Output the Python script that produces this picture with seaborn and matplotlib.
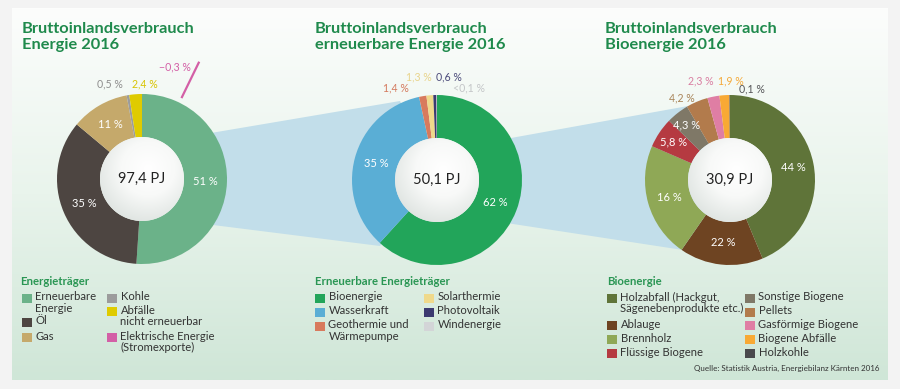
import numpy as np
import matplotlib.pyplot as plt
import seaborn as sns
from matplotlib.patches import Rectangle, Circle, Polygon
from matplotlib.colors import LinearSegmentedColormap

# Energieträger gesamt
energie_labels = ["Erneuerbare\nEnergie", "Öl", "Gas", "Kohle", "Abfälle\nnicht erneuerbar"]
energie_values = [51, 35, 11, 0.5, 2.4]
energie_texts = ["51 %", "35 %", "11 %", "0,5 %", "2,4 %"]
energie_colors = ["#6bb289", "#4d4541", "#c5a96b", "#9c9c9c", "#dfcb00"]
energie_total = "97,4 PJ"
strom_label = "Elektrische Energie\n(Stromexporte)"
strom_value = -0.3
strom_text = "\u22120,3 %"
strom_color = "#d35fa6"

# erneuerbare Energieträger
erneuerbar_labels = ["Bioenergie", "Wasserkraft", "Geothermie und\nWärmepumpe",
                     "Solarthermie", "Photovoltaik", "Windenergie"]
erneuerbar_values = [62, 35, 1.4, 1.3, 0.6, 0.1]
erneuerbar_texts = ["62 %", "35 %", "1,4 %", "1,3 %", "0,6 %", "<0,1 %"]
erneuerbar_colors = ["#22a55a", "#5aaed5", "#d87a5d", "#efd98b", "#3c3a70", "#d3d5d7"]
erneuerbar_total = "50,1 PJ"

# Bioenergie (Segmentgrößen wie gezeichnet)
bio_labels = ["Holzabfall (Hackgut,\nSägenebenprodukte etc.)", "Ablauge", "Brennholz",
              "Flüssige Biogene", "Sonstige Biogene", "Pellets", "Gasförmige Biogene",
              "Biogene Abfälle", "Holzkohle"]
bio_values = [44, 16, 22, 5.8, 4.3, 4.2, 2.3, 1.9, 0.1]
bio_texts = ["44 %", "22 %", "16 %", "5,8 %", "4,3 %", "4,2 %", "2,3 %", "1,9 %", "0,1 %"]
bio_colors = ["#5f7439", "#6e4422", "#8fa856", "#b53a41", "#7f7867", "#b27b4c",
              "#df7ea4", "#f8a934", "#4a4a4d"]
bio_total = "30,9 PJ"

# layout (pixel coordinates, y from top)
R, R_IN = 85, 42
CENTERS = [(142, 179), (437, 180), (730, 180)]
TITLES = ["Bruttoinlandsverbrauch\nEnergie 2016",
          "Bruttoinlandsverbrauch\nerneuerbare Energie 2016",
          "Bruttoinlandsverbrauch\nBioenergie 2016"]
TITLE_X = [22, 315, 605]
GREEN = "#1f8a4c"

sns.set_theme(style="white")
plt.rcParams["font.family"] = ["Lato", "DejaVu Sans"]

fig = plt.figure(figsize=(9, 3.89), dpi=100)
fig.patch.set_facecolor("#f3f3f3")
ax = fig.add_axes([0, 0, 1, 1])
ax.axis("off")

# panel background gradient
grad = np.linspace(0, 1, 256).reshape(-1, 1)
bg_cmap = LinearSegmentedColormap.from_list("bg", ["#fcfdfc", "#e9f4ec", "#cfe6d7"])
ax.imshow(grad, cmap=bg_cmap, extent=[12, 888, 380, 8], aspect="auto", zorder=0)

# connectors
conn = "#c2deea"
ax.add_patch(Polygon([(205, 134), (400, 101), (437, 180), (380, 246), (205, 224)],
                     closed=True, fc=conn, ec="none", zorder=1))
ax.add_patch(Polygon([(500, 140), (688, 106), (730, 180), (683, 250), (500, 222)],
                     closed=True, fc=conn, ec="none", zorder=1))

inner_cmap = LinearSegmentedColormap.from_list("inner", ["#ffffff", "#f8f9f8", "#e0e5e2"])


def donut(center, values, colors, texts, total, inside, outside):
    cx, cy = center
    # y axis is inverted: startangle -90 = top, counterclock=True = visually clockwise
    wedges, _ = ax.pie(values, colors=colors, radius=R, center=(cx, cy),
                       startangle=-90, counterclock=True,
                       wedgeprops=dict(width=R - R_IN, linewidth=0))
    for w in wedges:
        w.set_zorder(2)
    frac = np.array(values, dtype=float) / np.sum(values)
    ends = np.cumsum(frac) * 360
    mids = ends - frac * 180
    for i, t in enumerate(texts):
        if i in outside:
            x, y, c = outside[i]
            ax.text(x, y, t, color=c, fontsize=7.6, ha="center", va="center", zorder=4)
        elif i in inside:
            a = np.radians(mids[i])
            rr = inside[i]
            ax.text(cx + rr * np.sin(a), cy - rr * np.cos(a), t, color="white",
                    fontsize=8, ha="center", va="center", zorder=4)
    # inner shaded disc
    n = 120
    yy, xx = np.mgrid[-1:1:n * 1j, -1:1:n * 1j]
    d = np.sqrt((xx - 0.15) ** 2 + (yy + 0.25) ** 2) / 1.3
    im = ax.imshow(d, cmap=inner_cmap, vmin=0, vmax=1,
                   extent=[cx - R_IN, cx + R_IN, cy + R_IN, cy - R_IN],
                   aspect="auto", zorder=3)
    clip = Circle((cx, cy), R_IN, transform=ax.transData)
    im.set_clip_path(clip)
    ax.text(cx, cy, total, fontsize=10.5, ha="center", va="center", color="#222222", zorder=5)


donut(CENTERS[0], energie_values, energie_colors, energie_texts, energie_total,
      inside={0: 63, 1: 63, 2: 63},
      outside={3: (110, 84, "#8e8e8e"), 4: (145, 84, "#d8c400")})
donut(CENTERS[1], erneuerbar_values, erneuerbar_colors, erneuerbar_texts, erneuerbar_total,
      inside={0: 63, 1: 63},
      outside={2: (396, 88, "#d47a5e"), 3: (419, 77, "#e8d48c"),
               4: (449, 77, "#4b4a7a"), 5: (469, 88, "#c4c6c8")})
donut(CENTERS[2], bio_values, bio_colors, bio_texts, bio_total,
      inside={0: 65, 1: 63, 2: 63, 3: 68, 4: 70},
      outside={5: (682, 98, "#a88458"), 6: (701, 81, "#d97ea2"),
               7: (731, 81, "#f4a93a"), 8: (752, 89, "#555558")})

# negative Stromexporte as a line pointing out of the first ring
ang = np.radians(26)
cx, cy = CENTERS[0]
r0, r1 = R + 5, R + 5 + abs(strom_value) * 135
ax.plot([cx + r0 * np.sin(ang), cx + r1 * np.sin(ang)],
        [cy - r0 * np.cos(ang), cy - r1 * np.cos(ang)],
        color=strom_color, lw=1.6, solid_capstyle="butt", zorder=4)
ax.text(175, 67, strom_text, color=strom_color, fontsize=7.6, ha="center", va="center", zorder=4)

# titles
for x, t in zip(TITLE_X, TITLES):
    ax.text(x, 22, t, fontsize=11.8, fontweight="bold", color=GREEN, va="top",
            ha="left", linespacing=1.22, zorder=5)


def legend(title, tx, labels, colors, pos):
    ax.text(tx, 276, title, fontsize=8.2, fontweight="bold", color="#2a9654",
            ha="left", va="top", zorder=5)
    for lab, col, (x, y) in zip(labels, colors, pos):
        ax.add_patch(Rectangle((x, y - 4.5), 9.5, 9.5, fc=col, ec="none", zorder=5))
        ax.text(x + 13.5, y - 6.5, lab, fontsize=8.1, color="#333333", ha="left",
                va="top", linespacing=1.08, zorder=5)


legend("Energieträger", 20,
       [energie_labels[0], energie_labels[1], energie_labels[2],
        energie_labels[3], energie_labels[4], strom_label],
       [energie_colors[0], energie_colors[1], energie_colors[2],
        energie_colors[3], energie_colors[4], strom_color],
       [(22, 298), (22, 322), (22, 337), (107, 298), (107, 311), (107, 337)])
legend("Erneuerbare Energieträger", 315, erneuerbar_labels, erneuerbar_colors,
       [(315, 298), (315, 312), (315, 326), (424, 298), (424, 312), (424, 326)])
legend("Bioenergie", 607,
       [bio_labels[0], bio_labels[1], bio_labels[2], bio_labels[3],
        bio_labels[4], bio_labels[5], bio_labels[6], bio_labels[7], bio_labels[8]],
       bio_colors,
       [(607, 298), (607, 325), (607, 339), (607, 353),
        (745, 298), (745, 312), (745, 325), (745, 339), (745, 353)])

ax.text(880, 368, "Quelle: Statistik Austria, Energiebilanz Kärnten 2016", fontsize=5.8,
        color="#333333", ha="right", va="center", zorder=5)

ax.set_xlim(0, 900)
ax.set_ylim(389, 0)
fig.savefig("out.png", dpi=100, facecolor=fig.get_facecolor())
